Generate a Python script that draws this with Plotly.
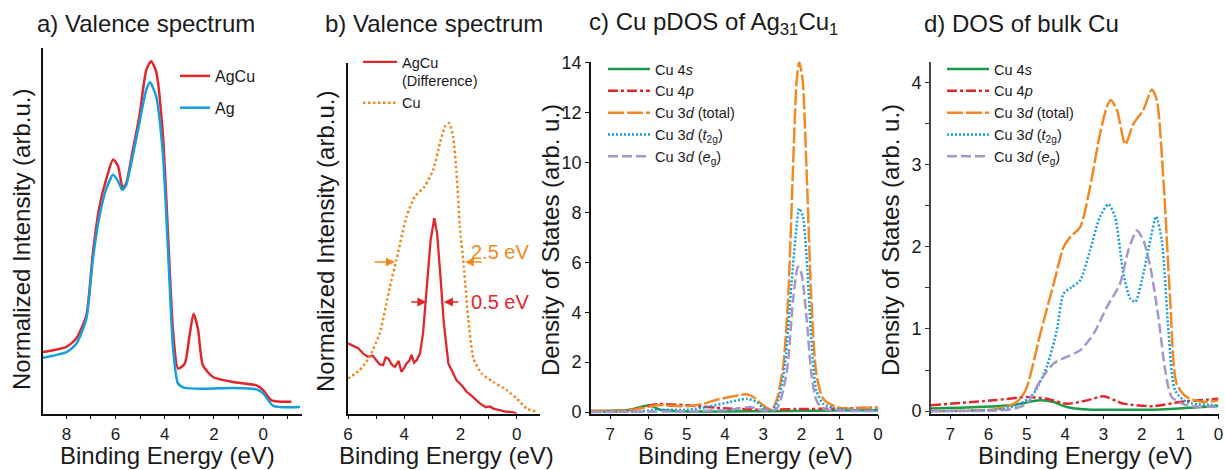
import plotly.graph_objects as go

# ---------------- data ----------------
# a) valence spectra
a_agcu_E = [8.95, 8.0, 7.6, 7.19, 6.92, 6.65, 6.38, 6.1, 5.9, 5.71, 5.58, 5.3, 5.03, 4.75, 4.55, 4.35, 4.08, 3.87, 3.66, 3.46, 3.19, 2.99, 2.83, 2.65, 2.45, 2.04, 1.22, 0.27, 0.0, -0.34, -1.15]
a_agcu_I = [0.168, 0.182, 0.205, 0.268, 0.441, 0.568, 0.641, 0.695, 0.677, 0.618, 0.627, 0.72, 0.814, 0.94, 0.964, 0.936, 0.768, 0.495, 0.223, 0.123, 0.136, 0.214, 0.273, 0.232, 0.132, 0.10, 0.086, 0.077, 0.064, 0.036, 0.032]
a_ag_E = [9.0, 8.0, 7.6, 7.19, 6.92, 6.65, 6.38, 6.1, 5.9, 5.73, 5.58, 5.3, 5.03, 4.75, 4.6, 4.35, 4.08, 3.87, 3.66, 3.46, 3.19, 2.31, 1.22, 0.27, 0.0, -0.41, -1.5]
a_ag_I = [0.152, 0.168, 0.19, 0.259, 0.423, 0.541, 0.614, 0.653, 0.636, 0.612, 0.623, 0.705, 0.795, 0.886, 0.906, 0.868, 0.714, 0.45, 0.177, 0.082, 0.07, 0.068, 0.07, 0.066, 0.055, 0.021, 0.018]

# b) difference spectrum and Cu reference
b_diff_E = [6.0, 5.82, 5.64, 5.45, 5.29, 5.12, 4.99, 4.87, 4.75, 4.66, 4.57, 4.45, 4.33, 4.2, 4.1, 4.0, 3.92, 3.82, 3.74, 3.65, 3.56, 3.44, 3.33, 3.21, 3.06, 2.93, 2.83, 2.71, 2.59, 2.43, 2.3, 2.14, 1.95, 1.78, 1.6, 1.45, 1.31, 1.1, 0.95, 0.83, 0.6, 0.36, 0.15, 0.0]
b_diff_I = [0.2, 0.192, 0.186, 0.17, 0.162, 0.165, 0.152, 0.14, 0.138, 0.16, 0.157, 0.14, 0.133, 0.15, 0.119, 0.13, 0.143, 0.15, 0.167, 0.145, 0.152, 0.171, 0.229, 0.343, 0.495, 0.557, 0.514, 0.39, 0.257, 0.143, 0.12, 0.095, 0.08, 0.062, 0.05, 0.04, 0.029, 0.018, 0.02, 0.014, 0.01, 0.005, 0.004, 0.0]
b_cu_E = [6.0, 5.58, 5.23, 4.87, 4.51, 4.28, 3.92, 3.62, 3.27, 2.97, 2.73, 2.55, 2.40, 2.26, 2.14, 2.02, 1.88, 1.72, 1.54, 1.25, 0.83, 0.36, 0.0, -0.36, -0.71]
b_cu_I = [0.10, 0.124, 0.162, 0.229, 0.362, 0.438, 0.562, 0.619, 0.648, 0.695, 0.771, 0.819, 0.829, 0.79, 0.686, 0.533, 0.419, 0.267, 0.157, 0.114, 0.09, 0.067, 0.043, 0.014, 0.005]

# c) Cu pDOS of Ag31Cu1
c_tot_E = [7.5, 6.48, 6.09, 5.78, 5.0, 4.57, 4.22, 3.78, 3.43, 3.26, 3.0, 2.78, 2.65, 2.48, 2.35, 2.22, 2.13, 2.06, 1.97, 1.87, 1.74, 1.61, 1.43, 1.09, 0.74, 0.22, 0.0]
c_tot_D = [0.05, 0.07, 0.17, 0.27, 0.23, 0.33, 0.49, 0.63, 0.71, 0.6, 0.27, 0.09, 0.47, 1.8, 4.48, 9.83, 13.17, 14.04, 13.3, 9.83, 4.48, 1.54, 0.53, 0.2, 0.13, 0.17, 0.17]
c_t2g_E = [7.5, 6.13, 5.87, 5.0, 4.48, 3.87, 3.43, 3.17, 3.0, 2.78, 2.61, 2.43, 2.26, 2.13, 2.06, 1.96, 1.85, 1.74, 1.61, 1.43, 1.09, 0.22, 0.0]
c_t2g_D = [0.0, 0.03, 0.09, 0.09, 0.2, 0.4, 0.53, 0.4, 0.17, 0.07, 0.47, 1.94, 5.15, 7.42, 8.16, 7.82, 5.82, 2.87, 0.87, 0.33, 0.13, 0.07, 0.07]
c_eg_E = [7.5, 5.0, 3.87, 3.35, 3.0, 2.65, 2.39, 2.22, 2.09, 2.0, 1.87, 1.74, 1.61, 1.43, 0.22, 0.0]
c_eg_D = [0.0, 0.03, 0.09, 0.2, 0.07, 0.13, 1.54, 4.48, 5.82, 5.55, 3.81, 1.54, 0.47, 0.13, 0.04, 0.04]
c_4p_E = [7.5, 6.48, 5.78, 5.0, 4.22, 3.0, 2.13, 1.26, 0.22, 0.0]
c_4p_D = [0.0, 0.07, 0.31, 0.27, 0.17, 0.09, 0.12, 0.13, 0.17, 0.17]
c_4s_E = [7.5, 6.48, 6.13, 5.96, 5.7, 5.17, 3.0, 0.22, 0.0]
c_4s_D = [0.04, 0.09, 0.23, 0.27, 0.09, 0.03, 0.03, 0.07, 0.07]

# d) DOS of bulk Cu
d_tot_E = [7.5, 5.87, 5.43, 5.17, 5.0, 4.65, 4.3, 4.04, 3.87, 3.61, 3.35, 3.09, 2.91, 2.81, 2.65, 2.43, 2.22, 1.96, 1.74, 1.61, 1.43, 1.26, 1.09, 0.83, 0.39, 0.0]
d_tot_D = [0.0, 0.02, 0.07, 0.15, 0.29, 0.94, 1.55, 2.0, 2.12, 2.24, 2.73, 3.38, 3.71, 3.79, 3.67, 3.25, 3.5, 3.67, 3.92, 3.79, 2.77, 1.35, 0.33, 0.17, 0.11, 0.13]
d_t2g_E = [7.5, 5.7, 5.17, 4.83, 4.48, 4.22, 4.04, 3.83, 3.61, 3.35, 3.09, 2.87, 2.7, 2.48, 2.3, 2.17, 2.0, 1.78, 1.63, 1.48, 1.3, 1.13, 0.83, 0.0]
d_t2g_D = [0.0, 0.02, 0.09, 0.21, 0.54, 0.98, 1.43, 1.51, 1.59, 1.96, 2.37, 2.52, 2.37, 1.67, 1.37, 1.33, 1.59, 2.08, 2.37, 2.08, 0.94, 0.25, 0.11, 0.07]
d_eg_E = [7.5, 5.43, 5.0, 4.65, 4.3, 3.96, 3.61, 3.26, 2.91, 2.57, 2.35, 2.13, 1.96, 1.78, 1.57, 1.39, 1.22, 0.83, 0.0]
d_eg_D = [0.0, 0.02, 0.09, 0.37, 0.58, 0.66, 0.74, 0.94, 1.27, 1.55, 1.96, 2.2, 2.08, 1.76, 1.15, 0.5, 0.17, 0.07, 0.05]
d_4p_E = [7.5, 5.87, 5.0, 4.48, 3.96, 3.43, 3.0, 2.48, 1.7, 1.0, 0.0]
d_4p_D = [0.07, 0.13, 0.17, 0.15, 0.09, 0.13, 0.18, 0.09, 0.06, 0.11, 0.15]
d_4s_E = [7.5, 5.43, 4.65, 4.3, 3.96, 3.43, 1.52, 0.0]
d_4s_D = [0.03, 0.07, 0.13, 0.11, 0.05, 0.02, 0.02, 0.06]

# ---------------- styling ----------------
RED = "#e2262c"
BLUE = "#159fe0"
ORANGE = "#f18a25"
GREEN = "#1b9a48"
PURPLE = "#a596cc"
FONT = "Liberation Sans, Arial, sans-serif"
TXT = "#1a1a1a"

W, H = 1225, 470
def px(x):
    return x / W
def py(y):
    return 1 - y / H

fig = go.Figure()

# panel a
fig.add_trace(go.Scatter(x=a_agcu_E, y=a_agcu_I, mode="lines", name="AgCu", legendgroup="a1",
                         line=dict(color=RED, width=2.5, shape="spline", smoothing=0.6),
                         xaxis="x", yaxis="y", legend="legend"))
fig.add_trace(go.Scatter(x=a_ag_E, y=a_ag_I, mode="lines", name="Ag", legendgroup="a2",
                         line=dict(color=BLUE, width=2.5, shape="spline", smoothing=0.6),
                         xaxis="x", yaxis="y", legend="legend"))

# panel b
fig.add_trace(go.Scatter(x=b_diff_E, y=b_diff_I, mode="lines", name="AgCu<br>(Difference)", legendgroup="b1",
                         line=dict(color=RED, width=2.3),
                         xaxis="x2", yaxis="y2", legend="legend2"))
fig.add_trace(go.Scatter(x=b_cu_E, y=b_cu_I, mode="lines", name="Cu", legendgroup="b2",
                         line=dict(color=ORANGE, width=2.5, dash="2.5px,2.5px", shape="spline", smoothing=0.5),
                         xaxis="x2", yaxis="y2", legend="legend2"))

# panels c, d
series_names = ["Cu 4<i>s</i>", "Cu 4<i>p</i>", "Cu 3<i>d</i> (total)",
                "Cu 3<i>d</i> (<i>t</i><sub>2g</sub>)", "Cu 3<i>d</i> (<i>e</i><sub>g</sub>)"]
series_styles = [
    dict(color=GREEN, width=2.5, dash="solid"),
    dict(color=RED, width=2.5, dash="10px,3px,3px,3px"),
    dict(color=ORANGE, width=2.5, dash="16px,3px"),
    dict(color=BLUE, width=2.5, dash="2px,2px"),
    dict(color=PURPLE, width=2.5, dash="10px,4px"),
]
c_data = [(c_4s_E, c_4s_D), (c_4p_E, c_4p_D), (c_tot_E, c_tot_D), (c_t2g_E, c_t2g_D), (c_eg_E, c_eg_D)]
d_data = [(d_4s_E, d_4s_D), (d_4p_E, d_4p_D), (d_tot_E, d_tot_D), (d_t2g_E, d_t2g_D), (d_eg_E, d_eg_D)]
for data, xa, ya, lg in [(c_data, "x3", "y3", "legend3"), (d_data, "x4", "y4", "legend4")]:
    for i in range(5):
        E, D = data[i]
        st = series_styles[i]
        fig.add_trace(go.Scatter(x=E, y=D, mode="lines", name=series_names[i],
                                 line=dict(color=st["color"], width=st["width"], dash=st["dash"],
                                           shape="spline", smoothing=0.7),
                                 xaxis=xa, yaxis=ya, legend=lg, legendrank=i + 1))

# ---------------- axes ----------------
tickfont = dict(family=FONT, size=17, color=TXT)
base_x = dict(showline=True, linecolor="#111", linewidth=1.6, ticks="outside", ticklen=4,
              tickwidth=1.4, tickcolor="#111", showgrid=False, zeroline=False, tickfont=tickfont,
              automargin=False)
base_y = dict(showline=True, linecolor="#111", linewidth=1.6, showgrid=False, zeroline=False,
              tickfont=dict(family=FONT, size=18, color=TXT), automargin=False)

bot = 1 - 413.5 / H
fig.update_layout(
    xaxis=dict(base_x, domain=[px(43), px(302)], range=[8.95, -1.58], tickvals=[8, 6, 4, 2, 0],
               minor=dict(tickvals=[7, 5, 3, 1, -1], ticks="outside", ticklen=4, tickcolor="#111"),
               anchor="y"),
    yaxis=dict(base_y, domain=[bot, py(48)], range=[0, 1], showticklabels=False, ticks="", anchor="x"),
    xaxis2=dict(base_x, domain=[px(348), px(540)], range=[6, -0.83], tickvals=[6, 4, 2, 0],
                minor=dict(tickvals=[5, 3, 1], ticks="outside", ticklen=4, tickcolor="#111"),
                anchor="y2"),
    yaxis2=dict(base_y, domain=[bot, py(63)], range=[0, 1], showticklabels=False, ticks="", anchor="x2"),
    xaxis3=dict(base_x, domain=[px(591), px(878)], range=[7.5, 0], tickvals=[7, 6, 5, 4, 3, 2, 1, 0],
                anchor="y3"),
    yaxis3=dict(base_y, domain=[bot, py(61.5)], range=[-0.06, 14.05], tickvals=list(range(0, 15, 2)),
                ticks="outside", ticklen=4, tickcolor="#111", anchor="x3"),
    xaxis4=dict(base_x, domain=[px(931), px(1218.5)], range=[7.5, 0], tickvals=[7, 6, 5, 4, 3, 2, 1, 0],
                anchor="y4"),
    yaxis4=dict(base_y, domain=[bot, py(61.5)], range=[-0.03, 4.26], tickvals=[0, 1, 2, 3, 4],
                ticks="outside", ticklen=4, tickcolor="#333", linecolor="#444",
                minor=dict(tickvals=[0.5, 1.5, 2.5, 3.5], ticks="outside", ticklen=4, tickcolor="#333"),
                anchor="x4"),
)

fig.update_layout(
    legend=dict(x=px(175), y=py(59), xanchor="left", yanchor="top", font=dict(family=FONT, size=16, color=TXT),
                bgcolor="rgba(0,0,0,0)", itemwidth=30, tracegroupgap=8, traceorder="grouped"),
    legend2=dict(x=px(358), y=py(46), xanchor="left", yanchor="top", font=dict(family=FONT, size=14.5, color=TXT),
                 valign="top", bgcolor="rgba(0,0,0,0)", itemwidth=34, tracegroupgap=0, traceorder="grouped"),
    legend3=dict(x=px(603), y=py(53), xanchor="left", yanchor="top", font=dict(family=FONT, size=14.5, color=TXT),
                 bgcolor="rgba(0,0,0,0)", itemwidth=42, traceorder="normal"),
    legend4=dict(x=px(942), y=py(53), xanchor="left", yanchor="top", font=dict(family=FONT, size=14.5, color=TXT),
                 bgcolor="rgba(0,0,0,0)", itemwidth=42, traceorder="normal"),
)

# ---------------- annotations ----------------
ann = []
title_font = dict(family=FONT, size=24, color=TXT)
for text, x in [("a) Valence spectrum", 35), ("b) Valence spectrum", 323),
                ("c) Cu pDOS of Ag<sub>31</sub>Cu<sub>1</sub>", 587), ("d) DOS of bulk Cu", 922)]:
    ann.append(dict(text=text, x=px(x), y=py(23), xref="paper", yref="paper", xanchor="left",
                    yanchor="middle", showarrow=False, font=title_font))
xt_font = dict(family=FONT, size=24, color=TXT)
for x in [167, 446, 745, 1085]:
    ann.append(dict(text="Binding Energy (eV)", x=px(x), y=py(455), xref="paper", yref="paper",
                    xanchor="center", yanchor="middle", showarrow=False, font=xt_font))
yt_font = dict(family=FONT, size=24, color=TXT)
for text, x, y in [("Normalized Intensity (arb.u.)", 22, 240), ("Normalized Intensity (arb.u.)", 326, 242),
                   ("Density of States (arb. u.)", 551, 240), ("Density of States (arb. u.)", 891, 240)]:
    ann.append(dict(text=text, x=px(x), y=py(y), xref="paper", yref="paper", textangle=-90,
                    xanchor="center", yanchor="middle", showarrow=False, font=yt_font))

# FWHM arrows in panel b
arrows = [(5.11, 4.33, 0.432, ORANGE), (1.19, 1.84, 0.432, ORANGE),
          (3.8, 3.21, 0.318, RED), (2.02, 2.59, 0.318, RED)]
for tail, tip, yv, col in arrows:
    ann.append(dict(x=tip, y=yv, ax=tail, ay=yv, xref="x2", yref="y2", axref="x2", ayref="y2",
                    showarrow=True, arrowhead=2, arrowsize=1.2, arrowwidth=1.5, arrowcolor=col, text=""))
ann.append(dict(text="2.5 eV", x=0.6, y=0.46, xref="x2", yref="y2", showarrow=False,
                font=dict(family=FONT, size=20, color=ORANGE)))
ann.append(dict(text="0.5 eV", x=0.6, y=0.318, xref="x2", yref="y2", showarrow=False,
                font=dict(family=FONT, size=20, color=RED)))

fig.update_layout(annotations=ann, width=W, height=H, margin=dict(l=0, r=0, t=0, b=0),
                  plot_bgcolor="white", paper_bgcolor="white", font=dict(family=FONT))

fig.write_html("out.html", config={"displayModeBar": False},
               post_script="document.body.style.margin='0';document.body.style.padding='0';")
